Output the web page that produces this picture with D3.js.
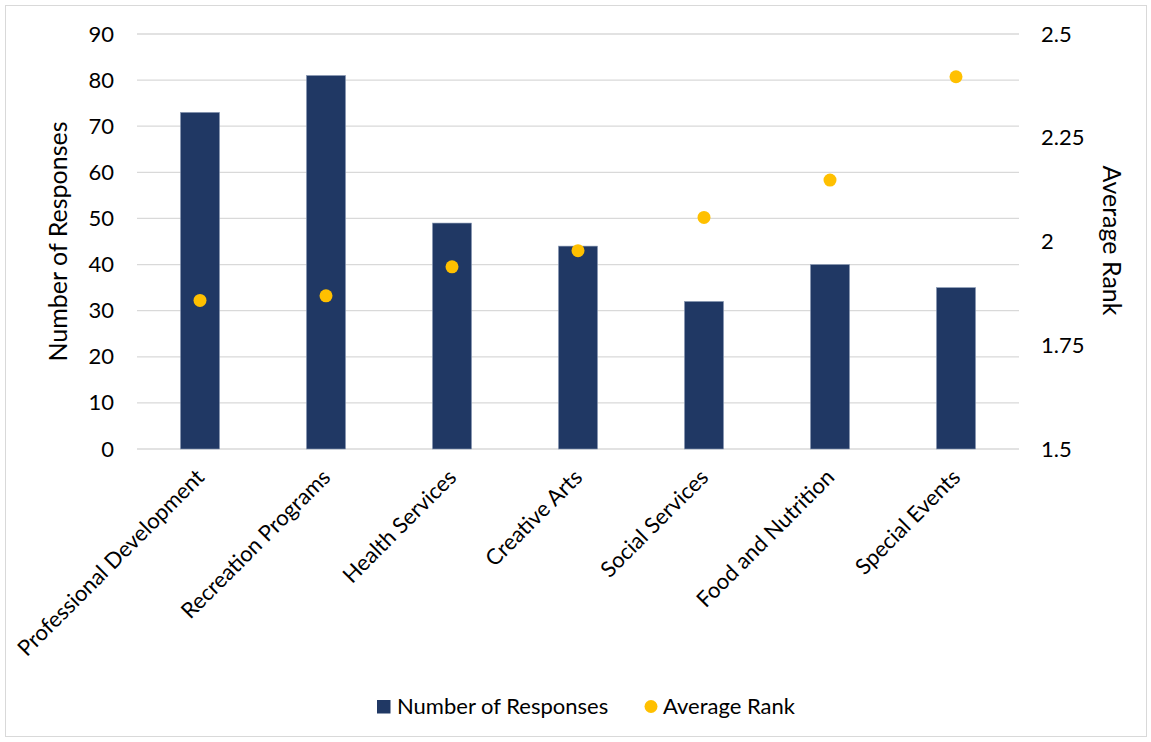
<!DOCTYPE html>
<html><head><meta charset="utf-8">
<script src="https://cdn.jsdelivr.net/npm/d3@7"></script>
<style>body{margin:0;background:#fff}svg{display:block}text{font-family:Lato,"Open Sans",sans-serif;fill:#000}</style>
</head><body><svg id="c" width="1151" height="742"></svg>
<script>
const categories=["Professional Development","Recreation Programs","Health Services","Creative Arts","Social Services","Food and Nutrition","Special Events"];
const responses=[73,81,49,44,32,40,35];
const avgRank=[1.858,1.869,1.939,1.978,2.058,2.148,2.397];
const leftTicks=[0,10,20,30,40,50,60,70,80,90];
const rightTicks=[1.5,1.75,2,2.25,2.5];
const seriesNames=["Number of Responses","Average Rank"];
const barColor="#203864", dotColor="#FFC000", gridColor="#d9d9d9";

const svg=d3.select("#c");
svg.append("rect").attr("x",5.5).attr("y",5.5).attr("width",1141).attr("height",731).attr("fill","#fff").attr("stroke",gridColor);
const L=137,R=1019,T=34,B=449;
const x=d3.scaleBand().domain(categories).range([L,R]).paddingInner(0.69).paddingOuter(0.345);
const y=d3.scaleLinear().domain([0,90]).range([B,T]);
const y2=d3.scaleLinear().domain([1.5,2.5]).range([B,T]);

svg.append("g").selectAll("line").data(leftTicks).join("line")
 .attr("x1",L).attr("x2",R).attr("y1",d=>y(d)).attr("y2",d=>y(d)).attr("stroke",gridColor).attr("stroke-width",1.3);

svg.append("g").selectAll("rect").data(responses).join("rect")
 .attr("x",(d,i)=>x(categories[i])).attr("width",x.bandwidth())
 .attr("y",d=>y(d)).attr("height",d=>B-y(d)).attr("fill",barColor)
 .attr("stroke","#8a9ab5").attr("stroke-width",0.6);

svg.append("g").selectAll("circle").data(avgRank).join("circle")
 .attr("cx",(d,i)=>x(categories[i])+x.bandwidth()/2).attr("cy",d=>y2(d)).attr("r",6.5).attr("fill",dotColor);

const fs=22;
const la=svg.append("g").attr("transform",`translate(${L},0)`).call(d3.axisLeft(y).tickValues(leftTicks).tickSize(0).tickPadding(23));
la.select(".domain").remove();
la.selectAll("text").style("font-size",fs+"px").attr("font-family","Lato");
const ra=svg.append("g").attr("transform",`translate(${R},0)`).call(d3.axisRight(y2).tickValues(rightTicks).tickSize(0).tickPadding(22).tickFormat(d=>String(d)));
ra.select(".domain").remove();
ra.selectAll("text").style("font-size",fs+"px").attr("font-family","Lato");

svg.append("g").selectAll("text").data(categories).join("text")
 .attr("transform",d=>`translate(${x(d)+x.bandwidth()/2+1},${474}) rotate(-45)`)
 .attr("text-anchor","end").attr("dy","0.3em").style("font-size",fs+"px").text(d=>d);

svg.append("text").attr("transform",`translate(67,${(T+B)/2}) rotate(-90)`).attr("text-anchor","middle")
 .style("font-size","25px").text("Number of Responses");
svg.append("text").attr("transform",`translate(1103,${(T+B)/2-1}) rotate(90)`).attr("text-anchor","middle")
 .style("font-size","25px").text("Average Rank");

const lg=svg.append("g");
lg.append("rect").attr("x",377).attr("y",700).attr("width",13.5).attr("height",13.5).attr("fill",barColor);
lg.append("text").attr("x",397).attr("y",706.5).attr("dy","0.35em").style("font-size",fs+"px").text(seriesNames[0]);
lg.append("circle").attr("cx",651).attr("cy",706.5).attr("r",6.5).attr("fill",dotColor);
lg.append("text").attr("x",663).attr("y",706.5).attr("dy","0.35em").style("font-size",fs+"px").text(seriesNames[1]);
</script></body></html>
